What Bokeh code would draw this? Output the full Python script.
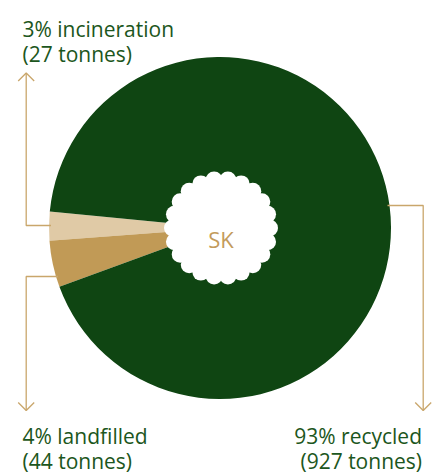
import numpy as np
from bokeh.plotting import figure
from bokeh.models import Range1d
from bokeh.core.properties import value
from bokeh.embed import file_html
from bokeh.resources import INLINE

# ---- data ----
categories = ["incineration", "landfilled", "recycled"]
percent = [3, 4, 93]
tonnes = [27, 44, 927]
colors = ["#e0caa6", "#c19a56", "#0f4512"]
center_label = "SK"

# ---- layout constants (pixel-like data space, y up) ----
W, H = 441, 474
CX, CY = 219.5, H - 227.5
R = 171
START_DEG = 174.5
TEXT_COLOR = "#1c5620"
LEADER_COLOR = "#c9a66b"
FONT = "Open Sans"

p = figure(width=W, height=H, x_range=Range1d(0, W), y_range=Range1d(0, H),
           output_backend="svg", toolbar_location=None, min_border=0,
           x_axis_type=None, y_axis_type=None)
p.grid.visible = False
p.outline_line_color = None
p.background_fill_color = "white"
p.border_fill_color = "white"

# wedges
t = np.array(tonnes, dtype=float)
frac = t / t.sum()
ends = np.radians(START_DEG) + np.cumsum(frac) * 2 * np.pi
starts = ends - frac * 2 * np.pi
p.wedge(x=CX, y=CY, radius=R, start_angle=starts, end_angle=ends,
        fill_color=colors, line_color=None)

# scalloped centre badge
n_bumps = 22
ang = np.radians(90) + (np.arange(n_bumps) + 0.5) * 2 * np.pi / n_bumps
BX, BY = CX + 1, CY
p.circle(x=BX, y=BY, radius=50, fill_color="white", line_color=None)
p.circle(x=BX + 48.5 * np.cos(ang), y=BY + 48.5 * np.sin(ang), radius=8.5,
         fill_color="white", line_color=None)
p.text(x=[BX], y=[H - 238], text=[center_label], text_align="center",
       text_baseline="alphabetic", text_font=value(FONT), text_font_size="22px",
       text_color="#c39b5b")

# leaders
def leader(xs, ys, direction):
    p.line(xs, ys, line_color=LEADER_COLOR, line_width=1.3)
    tx, ty = xs[-1], ys[-1]
    d = 8 if direction == "up" else -8
    p.line([tx - 8, tx, tx + 8], [ty - d, ty, ty - d], line_color=LEADER_COLOR, line_width=1.3)

def edge_x(y_img, side):
    dy = y_img - 227.5
    dx = np.sqrt(R ** 2 - dy ** 2)
    return CX - dx if side == "left" else CX + dx

leader([edge_x(225, "left") + 2, 25.7, 25.7], [H - 225, H - 225, H - 72.5], "up")
leader([edge_x(276, "left") + 2, 25.7, 25.7], [H - 276, H - 276, H - 410], "down")
leader([edge_x(205, "right") - 2, 422.7, 422.7], [H - 205, H - 205, H - 410], "down")

# labels
line1 = [f"{pc}% {c}" for pc, c in zip(percent, categories)]
line2 = [f"({tn} tonnes)" for tn in tonnes]
lx = [22, 22, 421.5]
ly1 = [H - 28.5, H - 435, H - 435]
ly2 = [H - 53.5, H - 460, H - 460]
al = ["left", "left", "right"]
for i in range(3):
    p.text(x=[lx[i]], y=[ly1[i]], text=[line1[i]], text_align=al[i], text_baseline="alphabetic",
           text_font=value(FONT), text_font_size="21px", text_color=TEXT_COLOR)
    p.text(x=[lx[i]], y=[ly2[i]], text=[line2[i]], text_align=al[i], text_baseline="alphabetic",
           text_font=value(FONT), text_font_size="21px", text_color=TEXT_COLOR)

open("out.html", "w").write(file_html(p, INLINE))
